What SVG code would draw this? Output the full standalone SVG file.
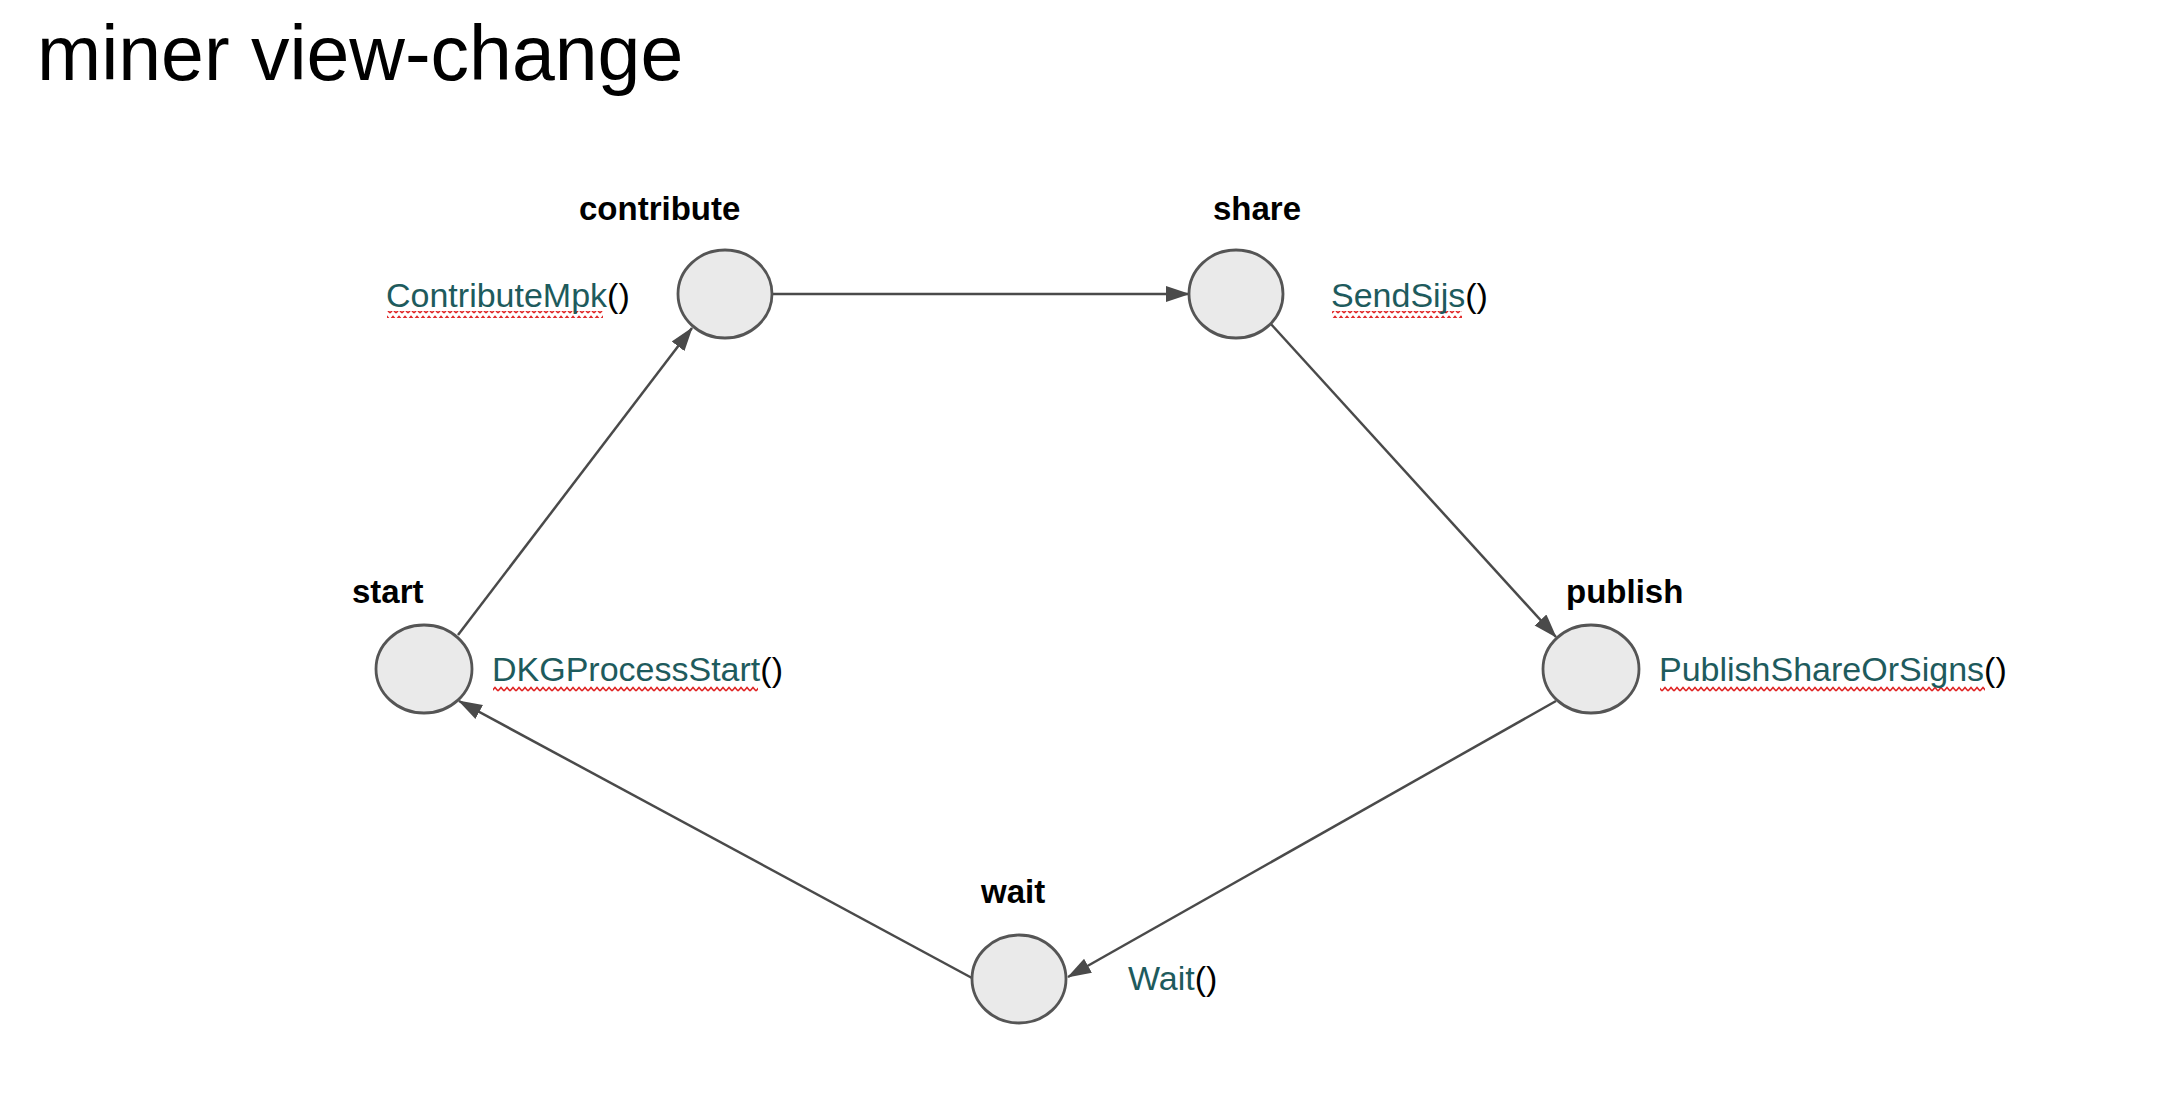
<svg xmlns="http://www.w3.org/2000/svg" width="2166" height="1116" viewBox="0 0 2166 1116">
<style>
.node{fill:#eaeaea;stroke:#555555;stroke-width:2.8}
.lbl{font-family:"Liberation Sans",Arial,sans-serif;font-weight:bold;font-size:33px;fill:#000}
.fn{font-family:"Liberation Sans",Arial,sans-serif;font-size:34px;fill:#000}
.tl{fill:#1e5b5d}
.edge{stroke:#4a4a4a;stroke-width:2.5;fill:none;marker-end:url(#arr)}
.wavy{fill:url(#wave)}
</style>
<defs>
<marker id="arr" markerUnits="userSpaceOnUse" markerWidth="24" markerHeight="18" viewBox="0 0 24 18" refX="23" refY="9" orient="auto">
<path d="M0,1 L24,9 L0,17 Z" fill="#4a4a4a"/>
</marker>
<pattern id="wave" patternUnits="userSpaceOnUse" width="6" height="7">
<polyline points="0,5 3,1.5 6,5" fill="none" stroke="#e02424" stroke-width="1.5"/>
</pattern>
</defs>
<rect width="2166" height="1116" fill="#ffffff"/>
<text x="37" y="80" font-family="Liberation Sans,Arial,sans-serif" font-size="77" fill="#000">miner view-change</text>
<g id="connectors">
<line class="edge" x1="458" y1="635" x2="692" y2="328"/>
<line class="edge" x1="773" y1="294" x2="1189" y2="294"/>
<line class="edge" x1="1270" y1="323" x2="1556" y2="637"/>
<line class="edge" x1="1556" y1="701" x2="1068" y2="977"/>
<line class="edge" x1="972" y1="978" x2="459" y2="701"/>
</g>
<g id="node-contribute">
<ellipse class="node" cx="725" cy="294" rx="47" ry="44"/>
<text class="lbl" x="579" y="220">contribute</text>
<rect class="wavy" x="387" y="311" width="216" height="7"/>
<text class="fn" x="386" y="307"><tspan class="tl">ContributeMpk</tspan>()</text>
</g>
<g id="node-share">
<ellipse class="node" cx="1236" cy="294" rx="47" ry="44"/>
<text class="lbl" x="1213" y="220">share</text>
<rect class="wavy" x="1332" y="311" width="130" height="7"/>
<text class="fn" x="1331" y="307"><tspan class="tl">SendSijs</tspan>()</text>
</g>
<g id="node-start">
<ellipse class="node" cx="424" cy="669" rx="48" ry="44"/>
<text class="lbl" x="352" y="603">start</text>
<rect class="wavy" x="493" y="685" width="265" height="7"/>
<text class="fn" x="492" y="681"><tspan class="tl">DKGProcessStart</tspan>()</text>
</g>
<g id="node-publish">
<ellipse class="node" cx="1591" cy="669" rx="48" ry="44"/>
<text class="lbl" x="1566" y="603">publish</text>
<rect class="wavy" x="1660" y="685" width="325" height="7"/>
<text class="fn" x="1659" y="681"><tspan class="tl">PublishShareOrSigns</tspan>()</text>
</g>
<g id="node-wait">
<ellipse class="node" cx="1019" cy="979" rx="47" ry="44"/>
<text class="lbl" x="981" y="903">wait</text>
<text class="fn" x="1128" y="990"><tspan class="tl">Wait</tspan>()</text>
</g>
</svg>
